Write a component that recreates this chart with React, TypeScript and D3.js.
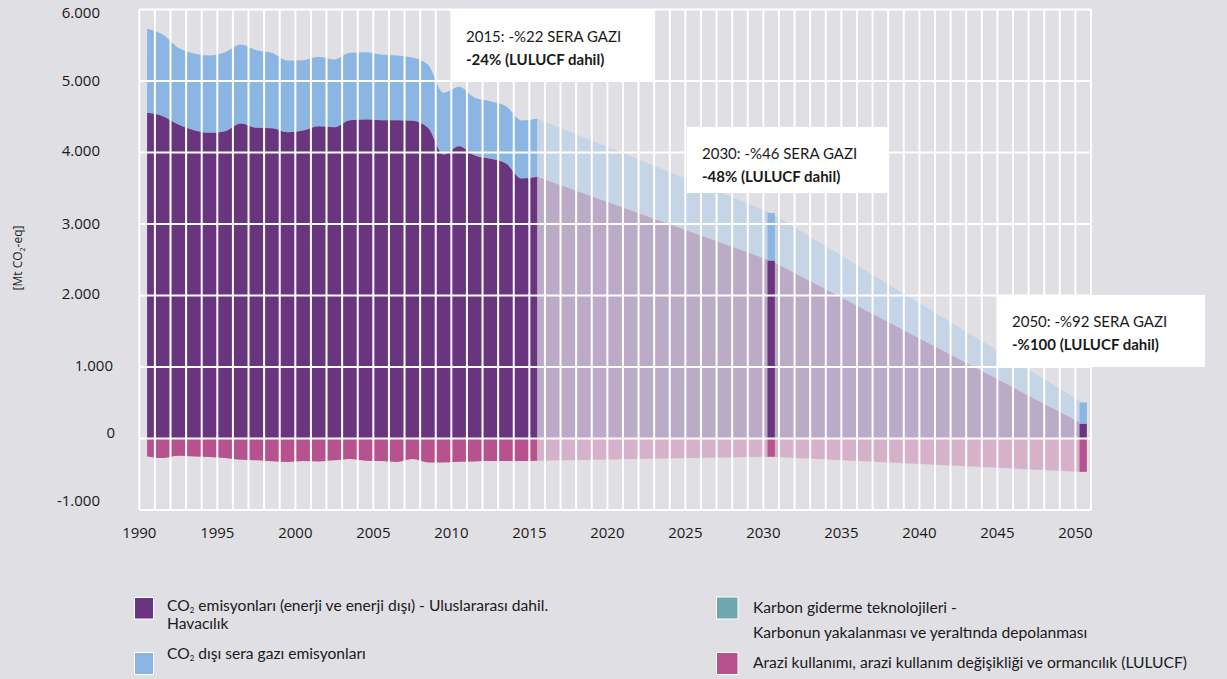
import React from 'react';
import * as d3 from 'd3';

// ---------- data ----------
const histYears = d3.range(1990, 2016);
const co2Hist = [4555, 4508, 4392, 4312, 4275, 4298, 4406, 4345, 4340, 4284, 4308, 4368, 4354, 4452, 4462, 4452, 4452, 4445, 4345, 3972, 4088, 3958, 3911, 3846, 3636, 3660];
const nonCo2Hist = [1175, 1142, 1072, 1073, 1082, 1105, 1104, 1086, 1054, 1003, 983, 970, 946, 942, 941, 918, 905, 885, 885, 863, 830, 807, 807, 802, 812, 816];
const lulucfHist = [-250, -272, -240, -250, -258, -272, -296, -305, -318, -328, -315, -320, -305, -286, -310, -315, -328, -288, -335, -335, -325, -320, -316, -316, -316, -310];

const futureYears = [2015, 2030, 2050];
const co2Future = [3660, 2486, 200];
const nonCo2Future = [816, 668, 300];
const lulucfFuture = [-310, -255, -468];

const targetYears = [2030, 2050];
const co2Target = [2486, 204];
const nonCo2Target = [668, 299];
const lulucfTarget = [-255, -466];

const yTicks = [-1000, 0, 1000, 2000, 3000, 4000, 5000, 6000];
const xTickYears = [1990, 1995, 2000, 2005, 2010, 2015, 2020, 2025, 2030, 2035, 2040, 2045, 2050];

const annoLine1 = ['2015: -%22 SERA GAZI', '2030: -%46 SERA GAZI', '2050: -%92 SERA GAZI'];
const annoLine2 = ['-24% (LULUCF dahil)', '-48% (LULUCF dahil)', '-%100 (LULUCF dahil)'];

// ---------- layout / style ----------
const W = 1227;
const H = 679;
const plot = { left: 139.3, right: 1091, top: 9.5, bottom: 510 };
const annoBoxes = [
  { x: 451, y: 10, w: 204, h: 70 },
  { x: 687, y: 127, w: 201, h: 66 },
  { x: 997, y: 295, w: 208, h: 72 },
];
const yLabelShift: Record<number, number> = { 1000: 13, 0: 15 };
const yLabelDy: Record<number, number> = { 6000: 3, 5000: 0, 4000: -1.5, 3000: 0, 2000: -1.5, 1000: -1.5, 0: -6, '-1000': -9 } as any;

const C = {
  bg: '#e0dfe4',
  co2: '#6a357f',
  non: '#8bb6e3',
  lulucf: '#b6528d',
  teal: '#6fa7ae',
  co2F: '#bcabc6',
  nonF: '#c6d5e5',
  lulucfF: '#d5b2c9',
  text: '#1a1a1a',
};

const fmt = d3.formatLocale({ decimal: ',', thousands: '.', grouping: [3], currency: ['', ''], minus: '-' }).format(',');

export default function App() {
  const years = d3.range(1990, 2051);
  const x = d3.scaleBand<number>().domain(years).range([plot.left, plot.right]).padding(0);
  const bw = x.bandwidth();
  const cx = (yr: number) => (x(yr) as number) + bw / 2;
  const y = d3.scaleLinear().domain([-1000, 6000]).range([plot.bottom, plot.top]);

  const hist = histYears.map((yr, i) => ({ yr, co2: co2Hist[i], non: nonCo2Hist[i], lu: lulucfHist[i] }));
  const fut = futureYears.map((yr, i) => ({ yr, co2: co2Future[i], non: nonCo2Future[i], lu: lulucfFuture[i] }));

  type P = { yr: number; co2: number; non: number; lu: number };
  const mk = (curve: any) => ({
    co2: d3.area<P>().x(d => cx(d.yr)).y0(() => y(0)).y1(d => y(d.co2)).curve(curve),
    non: d3.area<P>().x(d => cx(d.yr)).y0(d => y(d.co2)).y1(d => y(d.co2 + d.non)).curve(curve),
    lu: d3.area<P>().x(d => cx(d.yr)).y0(() => y(0)).y1(d => y(d.lu)).curve(curve),
  });
  const hA = mk(d3.curveMonotoneX);
  const fA = mk(d3.curveLinear);

  const barW = bw * 0.47;

  const font = "'Open Sans', sans-serif";
  const lato = "Lato, 'Open Sans', sans-serif";

  return (
    <svg width={W} height={H} style={{ position: 'absolute', left: 0, top: 0 }}>
      <rect x={0} y={0} width={W} height={H} fill={C.bg} />

      {/* future areas */}
      <path d={fA.non(fut) || ''} fill={C.nonF} />
      <path d={fA.co2(fut) || ''} fill={C.co2F} />
      <path d={fA.lu(fut) || ''} fill={C.lulucfF} />

      {/* historic areas */}
      <path d={hA.non(hist) || ''} fill={C.non} />
      <path d={hA.co2(hist) || ''} fill={C.co2} />
      <path d={hA.lu(hist) || ''} fill={C.lulucf} />

      {/* target bars */}
      {targetYears.map((yr, i) => (
        <g key={yr}>
          <rect x={cx(yr) - barW / 2} y={y(co2Target[i] + nonCo2Target[i])} width={barW} height={y(co2Target[i]) - y(co2Target[i] + nonCo2Target[i])} fill={C.non} />
          <rect x={cx(yr) - barW / 2} y={y(co2Target[i])} width={barW} height={y(0) - y(co2Target[i])} fill={C.co2} />
          <rect x={cx(yr) - barW / 2} y={y(0)} width={barW} height={y(lulucfTarget[i]) - y(0)} fill={C.lulucf} />
        </g>
      ))}

      {/* grid */}
      {years.map(yr => (
        <line key={'v' + yr} x1={x(yr)} x2={x(yr)} y1={plot.top} y2={plot.bottom} stroke="#fff" strokeWidth={2} />
      ))}
      <line x1={plot.right} x2={plot.right} y1={plot.top} y2={plot.bottom} stroke="#fff" strokeWidth={2} />
      {yTicks.map(v => (
        <line key={'h' + v} x1={plot.left} x2={plot.right} y1={y(v)} y2={y(v)} stroke="#fff" strokeWidth={2} />
      ))}

      {/* y tick labels */}
      {yTicks.map(v => (
        <text key={'yt' + v} x={100 + (yLabelShift[v] || 0)} y={y(v) + (yLabelDy[v] || 0)} dy="0.35em" textAnchor="end" fontFamily={font} fontSize={15} fill={C.text}>
          {fmt(v)}
        </text>
      ))}

      {/* x tick labels */}
      {xTickYears.map(yr => (
        <text key={'xt' + yr} x={x(yr)} y={538} textAnchor="middle" fontFamily={font} fontSize={15} fill={C.text}>
          {yr}
        </text>
      ))}

      {/* y axis title */}
      <text transform="translate(22,258) rotate(-90)" textAnchor="middle" fontFamily={font} fontSize={12} fill={C.text}>
        [Mt CO<tspan fontSize={7} dy={3}>2</tspan><tspan dy={-3}>-eq]</tspan>
      </text>

      {/* annotations */}
      {annoBoxes.map((b, i) => (
        <g key={'a' + i}>
          <rect x={b.x} y={b.y} width={b.w} height={b.h} fill="#fff" />
          <text x={b.x + 15} y={b.y + 32} fontFamily={lato} fontSize={15} fill={C.text}>{annoLine1[i]}</text>
          <text x={b.x + 15} y={b.y + 55} fontFamily={lato} fontSize={15} fontWeight="bold" fill={C.text}>{annoLine2[i]}</text>
        </g>
      ))}

      {/* legend */}
      <g fontFamily={lato} fontSize={15.6} fill={C.text}>
        <rect x={134.5} y={597.5} width={19} height={21.5} fill={C.co2} stroke="#fff" strokeWidth={1} />
        <text x={167} y={610.5}>
          CO<tspan fontSize={8} dy={2}>2</tspan><tspan dy={-2}> emisyonları (enerji ve enerji dışı) - Uluslararası dahil.</tspan>
        </text>
        <text x={167} y={628.5}>Havacılık</text>

        <rect x={134.5} y={652.5} width={19} height={22} fill={C.non} stroke="#fff" strokeWidth={1} />
        <text x={167} y={659}>
          CO<tspan fontSize={8} dy={2}>2</tspan><tspan dy={-2}> dışı sera gazı emisyonları</tspan>
        </text>

        <rect x={716.5} y={597} width={21.5} height={22} fill={C.teal} stroke="#fff" strokeWidth={1} />
        <text x={753} y={612.5}>Karbon giderme teknolojileri -</text>
        <text x={753} y={638}>Karbonun yakalanması ve yeraltında depolanması</text>

        <rect x={716.5} y={652.5} width={21.5} height={22} fill={C.lulucf} stroke="#fff" strokeWidth={1} />
        <text x={753} y={668}>Arazi kullanımı, arazi kullanım değişikliği ve ormancılık (LULUCF)</text>
      </g>
    </svg>
  );
}
